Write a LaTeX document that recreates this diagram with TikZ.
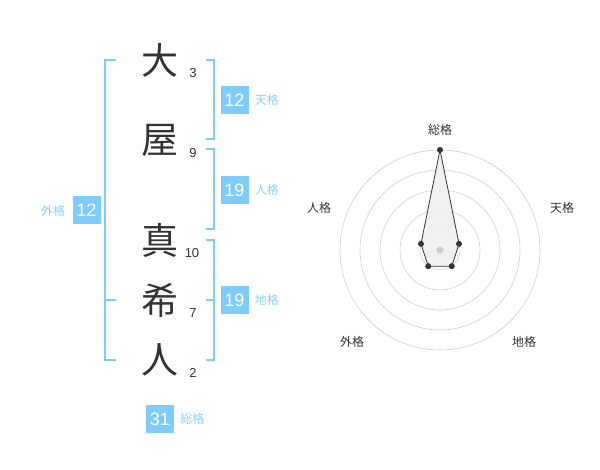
\documentclass[tikz,border=0pt]{standalone}
\usepackage{fontspec}
\setmainfont{Liberation Sans}
\newfontfamily\jpfont{Noto Sans CJK JP}
\usetikzlibrary{positioning}
\definecolor{kakublue}{RGB}{128,204,248}
\definecolor{kakulabel}{RGB}{140,208,246}
\definecolor{inkgray}{RGB}{51,51,51}
\definecolor{ringgray}{RGB}{206,206,206}

\begin{document}
\begin{tikzpicture}[x=1pt, y=-1pt, font=\jpfont,
    kanji/.style={font=\jpfont\fontsize{37}{37}\selectfont, text=inkgray, inner sep=0pt},
    strokes/.style={font=\fontsize{13}{13}\selectfont, text=inkgray, inner sep=0pt},
    kakubox/.style={fill=kakublue, text=white, minimum size=28pt, inner sep=0pt, font=\fontsize{18}{18}\selectfont},
    kakuname/.style={text=kakulabel, inner sep=0pt, font=\jpfont\fontsize{12}{12}\selectfont},
    bracket/.style={draw=kakublue, line width=1.6pt},
    ring/.style={draw=ringgray, line width=0.6pt},
    axisname/.style={text=inkgray, inner sep=0pt, font=\jpfont\fontsize{12}{12}\selectfont}]
    \useasboundingbox (0,0) rectangle (600,470);

    % Name and stroke counts
    \node[kanji] (k1) at (160,60) {大};
    \node[kanji] (k2) at (160,140) {屋};
    \node[kanji] (k3) at (160,240) {真};
    \node[kanji] (k4) at (160,300) {希};
    \node[kanji] (k5) at (160,360) {人};
    \node[strokes] (s1) at (193,73) {3};
    \node[strokes] (s2) at (193,153) {9};
    \node[strokes] (s3) at (192,253) {10};
    \node[strokes] (s4) at (193,313) {7};
    \node[strokes] (s5) at (193,373) {2};

    % Brackets
    \draw[bracket] (116,60) -- (105,60) -- (105,360) -- (116,360);
    \draw[bracket] (105,300) -- (116,300);
    \draw[bracket] (206,60) -- (214,60) -- (214,139) -- (206,139);
    \draw[bracket] (206,149) -- (214,149) -- (214,229) -- (206,229);
    \draw[bracket] (206,240) -- (214,240) -- (214,360) -- (206,360);
    \draw[bracket] (206,300) -- (214,300);

    % Kaku values
    \node[kakubox] (ten) at (234.5,100) {12};
    \node[kakuname, right=6pt of ten] (ten-l) {天格};
    \node[kakubox] (jin) at (234.5,190) {19};
    \node[kakuname, right=6pt of jin] (jin-l) {人格};
    \node[kakubox] (chi) at (234.5,300) {19};
    \node[kakuname, right=6pt of chi] (chi-l) {地格};
    \node[kakubox] (gai) at (86.5,210.5) {12};
    \node[kakuname, left=7pt of gai] (gai-l) {外格};
    \node[kakubox] (sou) at (160,419) {31};
    \node[kakuname, right=6pt of sou] (sou-l) {総格};

    % Radar chart
    \begin{scope}[shift={(440,250)}, y=1pt]
        \foreach \r in {20,40,...,100}
            \draw[ring] (0,0) circle (\r);
        \coordinate (r-sou) at (90:100);
        \coordinate (r-ten) at (18:20);
        \coordinate (r-chi) at (-54:20);
        \coordinate (r-gai) at (-126:20);
        \coordinate (r-jin) at (162:20);
        \fill[black!6, opacity=0.9] (r-sou) -- (r-ten) -- (r-chi) -- (r-gai) -- (r-jin) -- cycle;
        \fill[ringgray] (0,0) circle (3.5pt);
        \draw[inkgray, line width=0.8pt] (r-sou) -- (r-ten) -- (r-chi) -- (r-gai) -- (r-jin) -- cycle;
        \foreach \p in {r-sou,r-ten,r-chi,r-gai,r-jin}
            \fill[inkgray] (\p) circle (3pt);
        \node[axisname] (a-sou) at (0,120) {総格};
        \node[axisname] (a-ten) at (122,42) {天格};
        \node[axisname] (a-jin) at (-121,42) {人格};
        \node[axisname] (a-gai) at (-88,-92) {外格};
        \node[axisname] (a-chi) at (84,-92) {地格};
    \end{scope}
\end{tikzpicture}
\end{document}
